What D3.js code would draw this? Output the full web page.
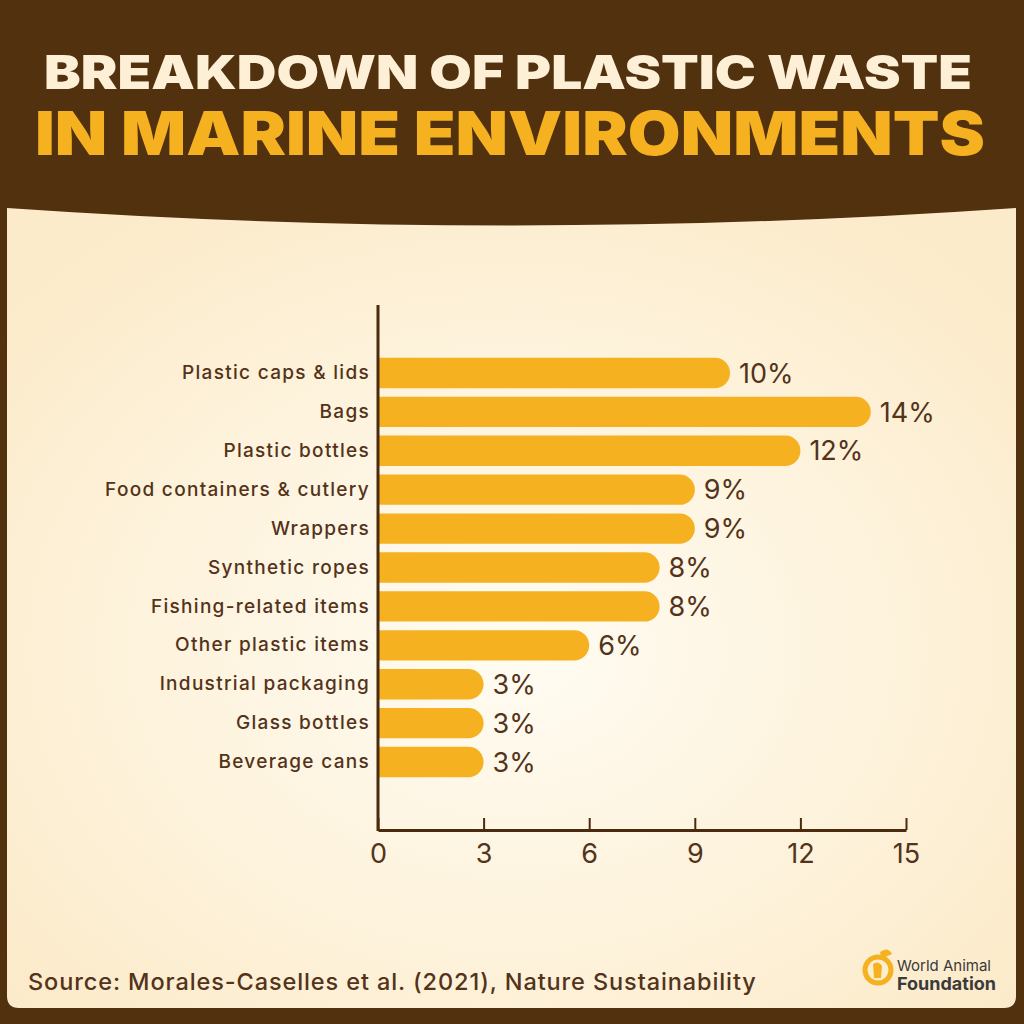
<!DOCTYPE html>
<html><head><meta charset="utf-8">
<script src="https://cdn.jsdelivr.net/npm/d3@7"></script>
<style>html,body{margin:0;padding:0;background:#52310f;}svg{display:block;}</style>
</head><body>
<svg id="c" width="1024" height="1024"></svg>
<script>
const categories = ["Plastic caps & lids","Bags","Plastic bottles","Food containers & cutlery","Wrappers","Synthetic ropes","Fishing-related items","Other plastic items","Industrial packaging","Glass bottles","Beverage cans"];
const values = [10,14,12,9,9,8,8,6,3,3,3];
const xTicks = [0,3,6,9,12,15];
const titleLine1 = "BREAKDOWN OF PLASTIC WASTE";
const titleLine2 = "IN MARINE ENVIRONMENTS";
const sourceText = "Source: Morales-Caselles et al. (2021), Nature Sustainability";

const FONT = "Inter, 'Open Sans', sans-serif";
const BROWN = "#52310f", TEXT = "#53331a", YEL = "#f5b120", CREAM = "#fdf0d6";
const svg = d3.select("#c");
const defs = svg.append("defs");
const rg = defs.append("radialGradient").attr("id","bg").attr("cx","50%").attr("cy","55%").attr("r","65%");
rg.append("stop").attr("offset","0%").attr("stop-color","#fffcf3");
rg.append("stop").attr("offset","100%").attr("stop-color","#fcebca");

svg.append("rect").attr("width",1024).attr("height",1024).attr("fill",BROWN);
// panel
const L=7,R=1016,T=208,B=1008,r=12;
svg.append("path").attr("fill","url(#bg)")
  .attr("d",`M${L},${T} Q512,243 ${R},${T} L${R},${B-r} Q${R},${B} ${R-r},${B} L${L+r},${B} Q${L},${B} ${L},${B-r} Z`);

// title
svg.append("text").attr("x",508).attr("y",89).attr("text-anchor","middle")
  .attr("font-family",FONT).attr("font-weight",900).attr("font-size",47)
  .attr("fill",CREAM).attr("textLength",928).attr("lengthAdjust","spacingAndGlyphs").text(titleLine1);
svg.append("text").attr("x",510).attr("y",155).attr("text-anchor","middle")
  .attr("font-family",FONT).attr("font-weight",900).attr("font-size",61)
  .attr("fill",YEL).attr("textLength",950).attr("lengthAdjust","spacingAndGlyphs").text(titleLine2);

// scales
const x = d3.scaleLinear().domain([0,15]).range([378,906]);
const y = d3.scaleBand().domain(categories).range([353.5,781.5]).paddingInner(0.22).paddingOuter(0.11);
const bw = y.bandwidth(), rad = bw/2;

const g = svg.append("g");
g.selectAll("path.bar").data(values).join("path").attr("class","bar").attr("fill",YEL)
  .attr("d",(v,i)=>{const y0=y(categories[i]), x0=x(0), x1=x(v);
    return `M${x0},${y0} H${x1-rad} A${rad},${rad} 0 0 1 ${x1-rad},${y0+bw} H${x0} Z`;});

g.selectAll("text.val").data(values).join("text").attr("class","val")
  .attr("x",v=>x(v)+9).attr("y",(v,i)=>y(categories[i])+bw/2).attr("dy","0.36em")
  .attr("font-family",FONT).attr("font-size",27).attr("fill",TEXT).text(v=>v+"%");

// y axis
const ya = d3.axisLeft(y).tickSize(0).tickPadding(8);
const yg = svg.append("g").attr("transform",`translate(${x(0)},0)`).call(ya);
yg.select(".domain").remove();
yg.selectAll("text").attr("font-family",FONT).attr("font-size",19).attr("font-weight",500)
  .attr("letter-spacing","1.3px").attr("fill",TEXT);
svg.append("line").attr("x1",x(0)).attr("x2",x(0)).attr("y1",305).attr("y2",831)
  .attr("stroke","#4a2b0e").attr("stroke-width",3);

// x axis
const xa = d3.axisBottom(x).tickValues(xTicks).tickSizeInner(-12).tickSizeOuter(0).tickPadding(14);
const xg = svg.append("g").attr("transform","translate(0,830)").call(xa);
xg.select(".domain").attr("stroke","#4a2b0e").attr("stroke-width",3);
xg.selectAll(".tick line").attr("stroke","#4a2b0e").attr("stroke-width",2);
xg.selectAll("text").attr("font-family",FONT).attr("font-size",27).attr("fill",TEXT).attr("dy","0.71em");

// source
svg.append("text").attr("x",28).attr("y",990).attr("font-family",FONT).attr("font-size",23.5)
  .attr("font-weight",500).attr("letter-spacing","0.9px").attr("fill",TEXT).text(sourceText);

// logo
const lg = svg.append("g").attr("transform","translate(878,970)");
lg.append("circle").attr("r",13).attr("fill","none").attr("stroke",YEL).attr("stroke-width",5);
lg.append("path").attr("d","M2,-18 Q10,-24 14,-16 Q8,-14 4,-10 Z").attr("fill",YEL);
lg.append("path").attr("d","M-5,-6 Q0,-10 4,-4 L3,8 L-4,8 Z").attr("fill",YEL);
svg.append("text").attr("x",897).attr("y",971).attr("font-family",FONT).attr("font-size",15)
  .attr("fill","#3a3a3a").text("World Animal");
svg.append("text").attr("x",897).attr("y",990).attr("font-family",FONT).attr("font-weight",700).attr("font-size",18)
  .attr("fill","#3a3a3a").text("Foundation");
</script>
</body></html>
